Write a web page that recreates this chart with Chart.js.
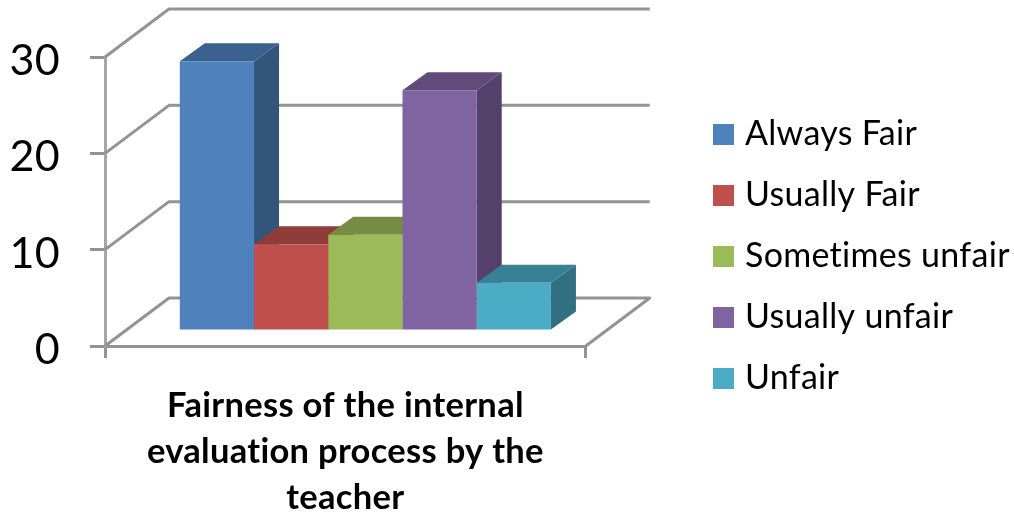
<!DOCTYPE html>
<html>
<head>
<meta charset="utf-8">
<title>Fairness of the internal evaluation process</title>
<script src="https://cdn.jsdelivr.net/npm/chart.js@4"></script>
<style>
  html, body { margin: 0; padding: 0; background: #fff; }
  #wrap { width: 1014px; height: 514px; }
</style>
</head>
<body>
<div id="wrap"><canvas id="chart" width="1014" height="514"></canvas></div>
<script>
const categories = [['Fairness of the internal', 'evaluation process by the', 'teacher']];
const seriesNames = ['Always Fair', 'Usually Fair', 'Sometimes unfair', 'Usually unfair', 'Unfair'];
const seriesValues = [28, 9, 10, 25, 5];
const seriesColors = ['#4F81BD', '#C0504D', '#9BBB59', '#8064A2', '#4BACC6'];
const yTicks = [0, 10, 20, 30];

// fake 3D: depth of the back wall and of the bars, and where the bars stand on the floor
const WALL_DX = 64, WALL_DY = -48;
const BAR_DX = 25, BAR_DY = -18;
const FLOOR_DX = 20, FLOOR_DY = -15;

function shade(hex, k) {
  const n = parseInt(hex.slice(1), 16);
  const c = [n >> 16, (n >> 8) & 255, n & 255].map(v => Math.round(v * k));
  return `rgb(${c[0]},${c[1]},${c[2]})`;
}

function poly(ctx, pts, color) {
  ctx.beginPath();
  pts.forEach((p, i) => i ? ctx.lineTo(p[0], p[1]) : ctx.moveTo(p[0], p[1]));
  ctx.closePath();
  ctx.fillStyle = color;
  ctx.fill();
}

// non-zero spacing also switches off the Lato "ti" ligature
const textSetup = {
  id: 'textSetup',
  beforeUpdate(chart) {
    chart.ctx.letterSpacing = '0.3px';
  },
  beforeDraw(chart) {
    chart.ctx.letterSpacing = '0.3px';
  }
};

// legend would be cut to a quarter of the canvas by the layout, so let it use the free space
const legendPlace = {
  id: 'legendPlace',
  afterLayout(chart) {
    const lg = chart.legend;
    lg.left = 692;
    lg.right = 1014;
    lg.top -= 29;
    lg.bottom -= 29;
    lg.width = lg.right - lg.left;
  }
};

const walls = {
  id: 'walls',
  beforeDatasetsDraw(chart) {
    const { ctx, chartArea: a, scales: { y } } = chart;
    ctx.save();
    ctx.lineWidth = 3;
    ctx.lineJoin = 'round';
    yTicks.forEach(v => {
      const py = y.getPixelForValue(v);
      ctx.beginPath();
      ctx.moveTo(a.left, py);
      ctx.lineTo(a.left + WALL_DX, py + WALL_DY);
      ctx.lineTo(a.right + WALL_DX, py + WALL_DY);
      if (v === 0) ctx.lineTo(a.right, py);
      ctx.strokeStyle = '#939393';
      ctx.stroke();
    });
    ctx.restore();

    // side and top faces go left to right, the front faces come after them
    ctx.save();
    ctx.translate(FLOOR_DX, FLOOR_DY);
    seriesColors.forEach((color, i) => {
      const bar = chart.getDatasetMeta(i).data[0];
      const half = bar.width / 2;
      const l = bar.x - half, r = bar.x + half, t = bar.y, b = bar.base;
      poly(ctx, [[r, t], [r + BAR_DX, t + BAR_DY], [r + BAR_DX, b + BAR_DY], [r, b]], shade(color, 0.65));
      poly(ctx, [[l, t], [l + BAR_DX, t + BAR_DY], [r + BAR_DX, t + BAR_DY], [r, t]], shade(color, 0.75));
    });
    ctx.restore();
  },
  beforeDatasetDraw(chart) {
    chart.ctx.save();
    chart.ctx.translate(FLOOR_DX, FLOOR_DY);
  },
  afterDatasetDraw(chart) {
    chart.ctx.restore();
  }
};

new Chart(document.getElementById('chart'), {
  type: 'bar',
  data: {
    labels: categories,
    datasets: seriesNames.map((name, i) => ({
      label: name,
      data: [seriesValues[i]],
      backgroundColor: seriesColors[i],
      borderWidth: 0,
      categoryPercentage: 0.772,
      barPercentage: 1
    }))
  },
  options: {
    responsive: false,
    animation: false,
    layout: { padding: { top: 57, right: 233, left: 0, bottom: 0 } },
    scales: {
      x: {
        grid: { drawOnChartArea: false, color: '#939393', lineWidth: 3, tickLength: 12 },
        border: { color: '#939393', width: 3 },
        ticks: {
          color: '#000', padding: 25, maxRotation: 0, autoSkip: false,
          font: { family: 'Lato', size: 34.5, weight: 'bold', lineHeight: 1.33 }
        },
        afterFit(s) { s.height = 168; }
      },
      y: {
        min: 0, max: 30,
        afterBuildTicks(s) { s.ticks = yTicks.map(v => ({ value: v })); },
        grid: { drawOnChartArea: false, color: '#939393', lineWidth: 3, tickLength: 15 },
        border: { color: '#a6a6a6', width: 3 },
        ticks: { color: '#000', padding: 30, labelOffset: 4, font: { family: 'Lato', size: 43 } },
        afterFit(s) { s.width = 105; }
      }
    },
    plugins: {
      tooltip: { enabled: false },
      legend: {
        position: 'right',
        labels: {
          color: '#000',
          font: { family: 'Lato', size: 34 },
          boxWidth: 9,
          boxHeight: 9,
          padding: 27,
          // wide stroke makes the swatch 21px while keeping the text close to it
          generateLabels(chart) {
            return Chart.defaults.plugins.legend.labels.generateLabels(chart)
              .map(l => ({ ...l, strokeStyle: l.fillStyle, lineWidth: 12 }));
          }
        }
      }
    }
  },
  plugins: [textSetup, legendPlace, walls]
});
</script>
</body>
</html>
